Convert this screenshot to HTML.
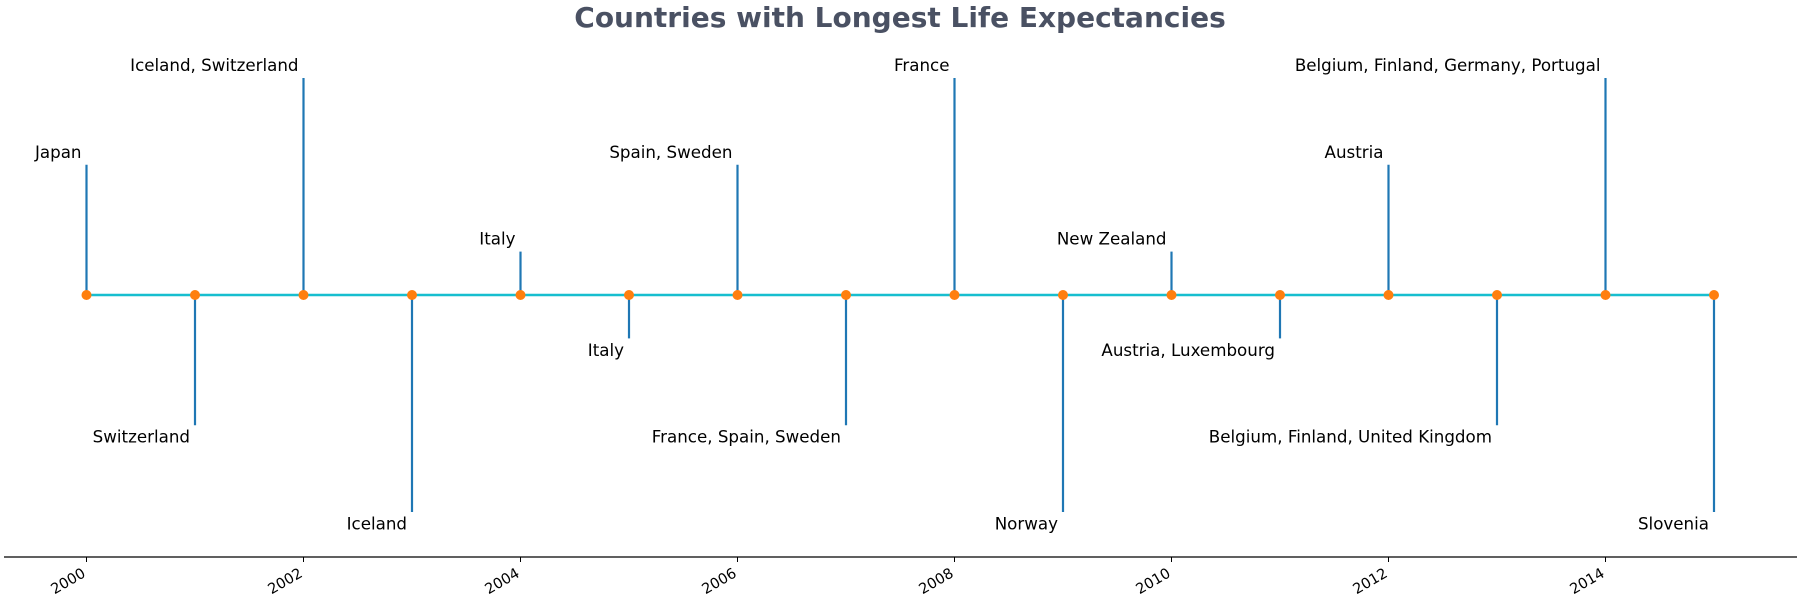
<!DOCTYPE html>
<html><head><meta charset="utf-8"><style>
html,body{margin:0;padding:0;background:#fff;}
svg{display:block;font-family:"DejaVu Sans","Liberation Sans",sans-serif;}
</style></head><body>
<svg id="chart" width="1800" height="600" viewBox="0 0 1800 600">
<text x="900" y="27" text-anchor="middle" font-size="28" font-weight="bold" fill="#4a5163">Countries with Longest Life Expectancies</text>
<line x1="4" y1="557" x2="1797" y2="557" stroke="#000" stroke-width="1.3"/>
<g id="marks"></g>
</svg>
<script>
const years = [2000,2001,2002,2003,2004,2005,2006,2007,2008,2009,2010,2011,2012,2013,2014,2015];
const levels = [3,-3,5,-5,1,-1,3,-3,5,-5,1,-1,3,-3,5,-5];
const labels = ["Japan","Switzerland","Iceland, Switzerland","Iceland","Italy","Italy","Spain, Sweden","France, Spain, Sweden","France","Norway","New Zealand","Austria, Luxembourg","Austria","Belgium, Finland, United Kingdom","Belgium, Finland, Germany, Portugal","Slovenia"];
const tickYears = [2000,2002,2004,2006,2008,2010,2012,2014];

const NS='http://www.w3.org/2000/svg';
const xS = y => 86.5 + (y-2000)*108.5;
const yS = v => 295 - v*43.4;
const g = document.getElementById('marks');
function mk(tag, attrs){const e=document.createElementNS(NS,tag);for(const k in attrs)e.setAttribute(k,attrs[k]);g.appendChild(e);return e;}

years.forEach((yr,i)=>{
  const x=xS(yr), y=yS(levels[i]);
  const s=mk('line',{x1:x,y1:yS(0),x2:x,y2:y,stroke:'#1f77b4','stroke-width':2.2});
  
  
});
const base=mk('line',{x1:xS(years[0]),y1:yS(0),x2:xS(years[years.length-1]),y2:yS(0),stroke:'#17becf','stroke-width':2.5});


years.forEach((yr,i)=>{
  const x=xS(yr), y=yS(levels[i]);
  const c=mk('circle',{cx:x,cy:yS(0),r:5,fill:'#ff7f0e'});
  
  
  const up=levels[i]>0;
  const t=mk('text',{x:x-5,y:up?y-7:y+17.5,'text-anchor':'end','font-size':16.7,fill:'#000'});
  t.textContent=labels[i];
  
  
});
tickYears.forEach(yr=>{
  const x=xS(yr);
  const tk=mk('line',{x1:x,y1:557,x2:x,y2:562,stroke:'#000','stroke-width':1});
  
  
  const t=mk('text',{x:x,y:576,'text-anchor':'end','font-size':14.5,fill:'#000',transform:`rotate(-30 ${x} 576)`});
  t.textContent=yr;
  
  
});
</script>
</body></html>
